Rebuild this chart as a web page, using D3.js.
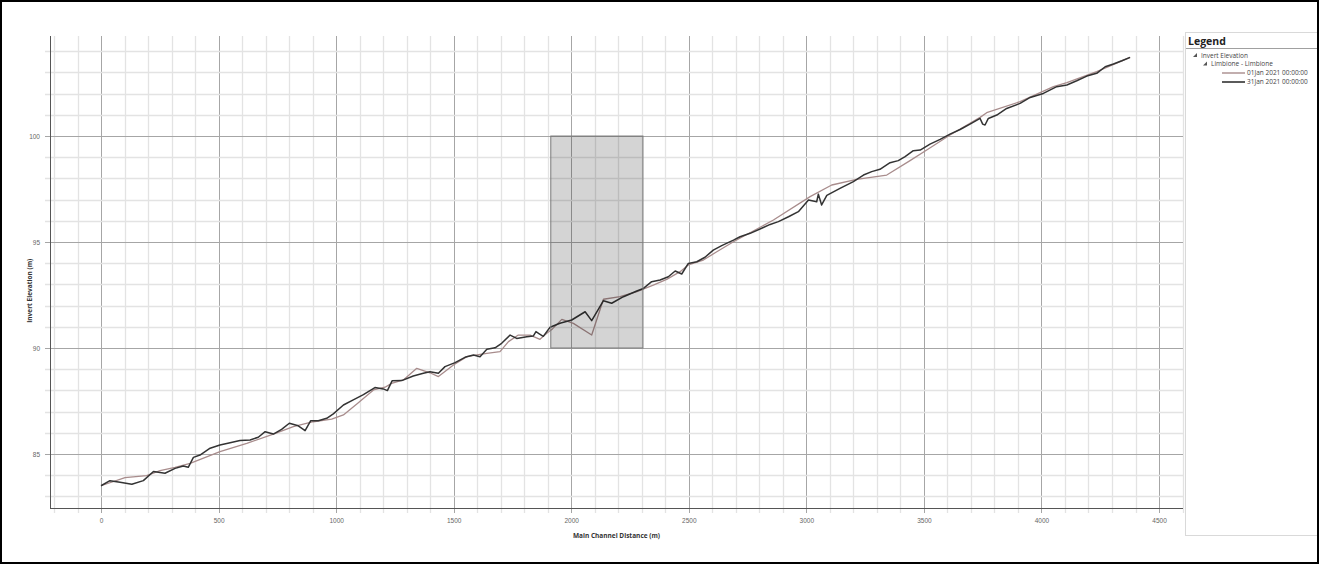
<!DOCTYPE html>
<html>
<head>
<meta charset="utf-8">
<script src="https://cdn.jsdelivr.net/npm/d3@7"></script>
<style>
  html, body { margin: 0; padding: 0; background: #fff; }
  svg { display: block; font-family: "Open Sans", "Noto Sans", sans-serif; }
</style>
</head>
<body>
<svg id="chart" width="1319" height="564"></svg>
<script>
// Profile surveyed on 01 Jan 2021: main channel distance (m) and invert elevation (m)
const jan01Distance = [0, 102, 194, 251, 315, 379, 506, 620, 733, 818, 903, 981, 1031, 1088, 1159, 1208, 1236, 1286,
  1343, 1399, 1435, 1499, 1556, 1598, 1641, 1697, 1733, 1775, 1825, 1867, 1896, 1920, 1960, 2009, 2087, 2137,
  2208, 2279, 2349, 2406, 2463, 2498, 2562, 2619, 2690, 2860, 3016, 3108, 3214, 3342, 3441, 3512, 3611, 3739,
  3767, 3909, 4051, 4108, 4235, 4377];
const jan01Elevation = [83.5, 83.88, 83.98, 84.21, 84.37, 84.56, 85.11, 85.5, 85.94, 86.29, 86.52, 86.64, 86.84, 87.36,
  88.02, 88.15, 88.33, 88.49, 89.04, 88.83, 88.65, 89.2, 89.59, 89.67, 89.75, 89.83, 90.3, 90.61, 90.61, 90.41,
  90.69, 90.9, 91.35, 91.16, 90.61, 92.3, 92.42, 92.66, 92.97, 93.24, 93.6, 93.92, 94.15, 94.54, 95.01, 96.04,
  97.14, 97.69, 97.96, 98.16, 98.84, 99.34, 100.05, 100.88, 101.1, 101.62, 102.33, 102.52, 103.04, 103.71];

// Profile surveyed on 31 Jan 2021
const jan31Distance = [0, 38, 81, 131, 180, 223, 272, 315, 350, 371, 393, 421, 464, 506, 549, 591, 634, 669, 698, 733,
  768, 801, 839, 868, 892, 924, 960, 988, 1031, 1073, 1116, 1165, 1201, 1218, 1238, 1279, 1328, 1371, 1399, 1435,
  1463, 1506, 1548, 1584, 1612, 1641, 1676, 1704, 1740, 1768, 1811, 1839, 1850, 1864, 1881, 1910, 1952, 2002,
  2059, 2087, 2137, 2172, 2222, 2279, 2307, 2342, 2378, 2413, 2442, 2470, 2498, 2534, 2569, 2604, 2640, 2690,
  2718, 2761, 2810, 2846, 2881, 2924, 2966, 3009, 3044, 3051, 3065, 3087, 3143, 3200, 3243, 3278, 3313, 3356,
  3391, 3420, 3455, 3484, 3526, 3569, 3611, 3654, 3696, 3739, 3750, 3760, 3774, 3810, 3852, 3909, 3952, 4008,
  4065, 4108, 4150, 4193, 4235, 4271, 4306, 4342, 4377];
const jan31Elevation = [83.5, 83.74, 83.66, 83.57, 83.74, 84.17, 84.09, 84.32, 84.43, 84.37, 84.84, 84.95, 85.27,
  85.42, 85.53, 85.63, 85.66, 85.79, 86.05, 85.94, 86.16, 86.45, 86.33, 86.1, 86.57, 86.57, 86.68, 86.89, 87.31,
  87.55, 87.8, 88.13, 88.07, 87.99, 88.45, 88.46, 88.68, 88.81, 88.88, 88.81, 89.12, 89.31, 89.56, 89.67, 89.59,
  89.94, 90.01, 90.22, 90.61, 90.45, 90.53, 90.57, 90.77, 90.67, 90.55, 90.98, 91.17, 91.32, 91.71, 91.29,
  92.23, 92.11, 92.42, 92.69, 92.81, 93.13, 93.21, 93.36, 93.63, 93.49, 93.99, 94.07, 94.28, 94.62, 94.83,
  95.09, 95.25, 95.41, 95.65, 95.83, 95.96, 96.19, 96.43, 96.98, 96.9, 97.26, 96.75, 97.2, 97.53, 97.85, 98.16,
  98.32, 98.43, 98.74, 98.84, 99.03, 99.31, 99.34, 99.62, 99.84, 100.09, 100.31, 100.56, 100.83, 100.56,
  100.52, 100.83, 100.99, 101.3, 101.54, 101.82, 102.01, 102.33, 102.41, 102.61, 102.83, 102.96, 103.27,
  103.4, 103.55, 103.71];

// Highlighted reach (distance range and elevation range)
const zoneDistance = [1913, 2305];
const zoneElevation = [90, 100];

// Axis ticks
const xTickLabels = [0, 500, 1000, 1500, 2000, 2500, 3000, 3500, 4000, 4500];
const yTickLabels = [85, 90, 95, 100];

const seriesNames = ["01Jan 2021 00:00:00", "31Jan 2021 00:00:00"];
const seriesColors = ["#a88c8c", "#333333"];

const svg = d3.select("#chart");
const W = 1319, H = 564;
const plot = { left: 50, right: 1183, top: 36, bottom: 508 };

const x = d3.scaleLinear().domain([-217, 4602]).range([plot.left, plot.right]);
const y = d3.scaleLinear().domain([82.45, 104.72]).range([plot.bottom, plot.top]);

// Grid: minor every 100 m / 1 m, major every 500 m / 5 m
const xGrid = d3.range(-200, 4601, 100);
const yGrid = d3.range(83, 105, 1);

const grid = svg.append("g");
grid.selectAll("line.vx").data(xGrid).join("line")
  .attr("x1", d => Math.round(x(d)) + 0.5).attr("x2", d => Math.round(x(d)) + 0.5)
  .attr("y1", plot.top).attr("y2", plot.bottom + 5)
  .attr("stroke", d => d % 500 === 0 ? "#a6a6a6" : "#e3e3e3")
  .attr("stroke-width", d => d % 500 === 0 ? 1 : 1.3);
grid.selectAll("line.hy").data(yGrid).join("line")
  .attr("y1", d => Math.round(y(d)) + 0.5).attr("y2", d => Math.round(y(d)) + 0.5)
  .attr("x1", plot.left - 5).attr("x2", plot.right)
  .attr("stroke", d => d % 5 === 0 ? "#a6a6a6" : "#e3e3e3")
  .attr("stroke-width", d => d % 5 === 0 ? 1 : 1.3);

// Axes (labels only, lines drawn by the grid and the frame below)
const xAxis = d3.axisBottom(x).tickValues(xTickLabels).tickSize(0).tickPadding(10).tickFormat(d3.format("d"));
const yAxis = d3.axisLeft(y).tickValues(yTickLabels).tickSize(0).tickPadding(10).tickFormat(d3.format("d"));

const gx = svg.append("g").attr("transform", `translate(0,${plot.bottom})`).call(xAxis);
const gy = svg.append("g").attr("transform", `translate(${plot.left},0)`).call(yAxis);
[gx, gy].forEach(g => {
  g.select(".domain").remove();
  g.selectAll("text").attr("fill", "#666").attr("font-size", 6.5);
});

svg.append("line").attr("x1", plot.left + 0.5).attr("x2", plot.left + 0.5)
  .attr("y1", plot.top).attr("y2", plot.bottom + 0.5).attr("stroke", "#555").attr("stroke-width", 1);
svg.append("line").attr("x1", plot.left).attr("x2", plot.right)
  .attr("y1", plot.bottom + 0.5).attr("y2", plot.bottom + 0.5).attr("stroke", "#555").attr("stroke-width", 1);

// Profile lines
const line = d3.line().x(d => x(d[0])).y(d => y(d[1]));
const series = [
  d3.zip(jan01Distance, jan01Elevation),
  d3.zip(jan31Distance, jan31Elevation)
];
svg.append("g").selectAll("path").data(series).join("path")
  .attr("d", line)
  .attr("fill", "none")
  .attr("stroke", (d, i) => seriesColors[i])
  .attr("stroke-width", (d, i) => i === 0 ? 1.3 : 1.5)
  .attr("stroke-linejoin", "round");

// Highlighted reach
svg.append("rect")
  .attr("x", x(zoneDistance[0])).attr("y", y(zoneElevation[1]))
  .attr("width", x(zoneDistance[1]) - x(zoneDistance[0]))
  .attr("height", y(zoneElevation[0]) - y(zoneElevation[1]))
  .attr("fill", "#000").attr("fill-opacity", 0.17)
  .attr("stroke", "#7a7a7a").attr("stroke-width", 1);

// Axis titles
svg.append("text")
  .attr("x", (plot.left + plot.right) / 2 + 0).attr("y", 538)
  .attr("text-anchor", "middle").attr("font-size", 6.5).attr("font-weight", "bold").attr("fill", "#333")
  .text("Main Channel Distance (m)");
svg.append("text")
  .attr("transform", `translate(32,${y(92.7)}) rotate(-90)`)
  .attr("text-anchor", "middle").attr("font-size", 6.5).attr("font-weight", "bold").attr("fill", "#333")
  .text("Invert Elevation (m)");

// Legend panel
const lg = svg.append("g");
lg.append("rect").attr("x", 1185.5).attr("y", 32.5).attr("width", 132).attr("height", 503)
  .attr("fill", "#fff").attr("stroke", "#d9d9d9");
lg.append("text").attr("x", 1188).attr("y", 45).attr("font-size", 10.5).attr("font-weight", "bold")
  .attr("fill", "#222").text("Legend");
lg.append("line").attr("x1", 1186).attr("x2", 1318).attr("y1", 48.5).attr("y2", 48.5)
  .attr("stroke", "#a0a0a0");

const tri = (cx, cy) => `M${cx + 2},${cy - 2} L${cx + 2},${cy + 2} L${cx - 2},${cy + 2} Z`;
lg.append("path").attr("d", tri(1195, 55)).attr("fill", "#555");
lg.append("text").attr("x", 1201).attr("y", 57.5).attr("font-size", 6.5).attr("fill", "#444").text("Invert Elevation");
lg.append("path").attr("d", tri(1205, 63.5)).attr("fill", "#555");
lg.append("text").attr("x", 1211).attr("y", 66).attr("font-size", 6.5).attr("fill", "#444").text("Limbione - Limbione");

lg.selectAll("g.item").data(seriesNames).join("g").each(function (name, i) {
  const g = d3.select(this);
  const yy = 73 + i * 9;
  g.append("line").attr("x1", 1222).attr("x2", 1245).attr("y1", yy).attr("y2", yy)
    .attr("stroke", seriesColors[i]).attr("stroke-width", i === 0 ? 1.4 : 1.6);
  g.append("text").attr("x", 1247).attr("y", yy + 2.3).attr("font-size", 6.5).attr("fill", "#444").text(name);
});

// Outer frame
svg.append("rect").attr("x", 1).attr("y", 1).attr("width", W - 2).attr("height", H - 2)
  .attr("fill", "none").attr("stroke", "#000").attr("stroke-width", 2);
</script>
</body>
</html>
